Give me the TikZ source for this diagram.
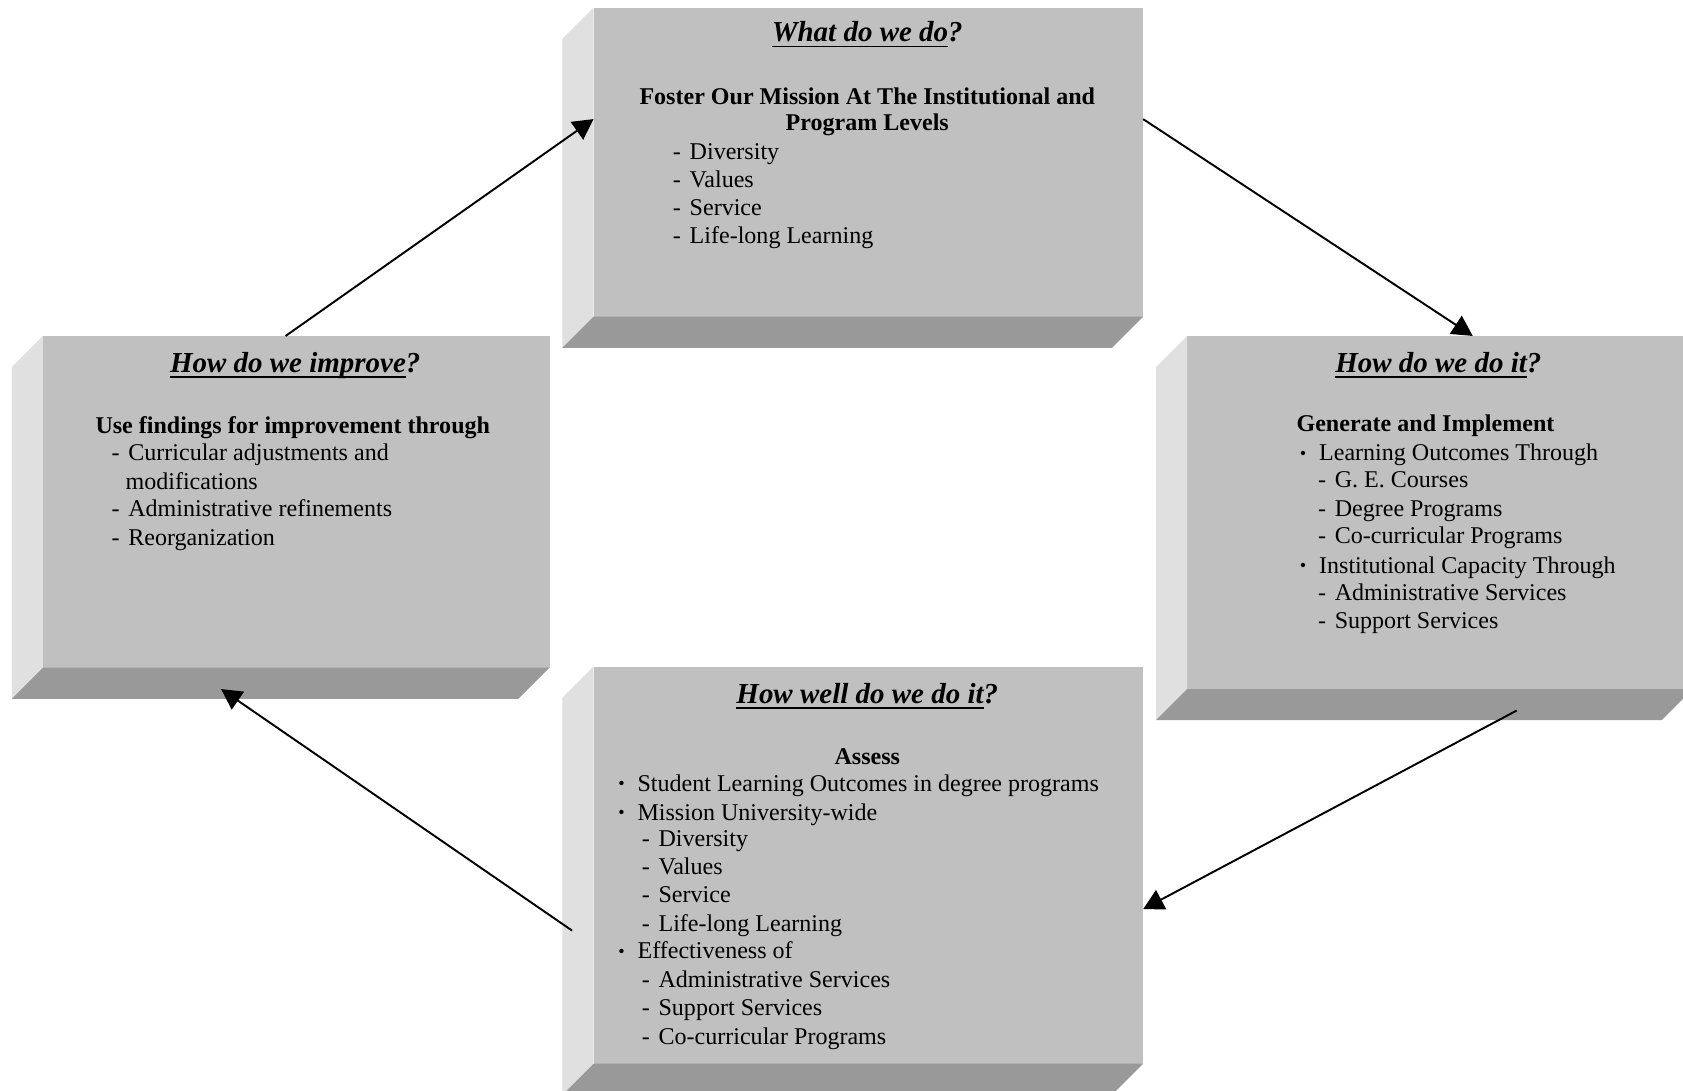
\documentclass[tikz,border=0pt]{standalone}
\usepackage{fontspec}
\setmainfont{Liberation Serif}
\usetikzlibrary{arrows.meta,calc,fit}
\definecolor{facefront}{RGB}{192,192,192}
\definecolor{faceleft}{RGB}{224,224,224}
\definecolor{facebottom}{RGB}{153,153,153}
\newcommand\myul[1]{\setbox0\hbox{#1}\rlap{\rule[-2.6pt]{\wd0}{0.8pt}}\box0}
\newcommand\mydash{\makebox[7.8pt][l]{-}}
\newcommand\mybul{\makebox[9pt][l]{\raisebox{0.6pt}{\fontsize{8.5}{8.5}\selectfont •}}}
\newcommand\threedbox[3]{%
  \node[front,fit={#2 #3}] (#1) {};
  \fill[faceleft] (#1.north west) -- (#1.south west) -- ++(-29,29) -- ($(#1.north west)+(-29,29)$) -- cycle;
  \fill[facebottom] (#1.south west) -- (#1.south east) -- ++(-29,29) -- ($(#1.south west)+(-29,29)$) -- cycle;
}
\begin{document}
\begin{tikzpicture}[x=0.5pt,y=-0.5pt,
  front/.style={fill=facefront,draw=none,inner sep=0pt,outer sep=0pt},
  txt/.style={inner sep=0pt,outer sep=0pt,font=\fontsize{11.2}{13}\selectfont},
  bld/.style={inner sep=0pt,outer sep=0pt,font=\fontsize{11.2}{13}\selectfont\bfseries},
  ttl/.style={inner sep=0pt,outer sep=0pt,font=\fontsize{13.5}{16}\selectfont\bfseries\itshape},
  arr/.style={line width=0.9pt,-{Triangle[length=9.5pt,width=10pt]}}]
\useasboundingbox (0,0) rectangle (1568,1016);
\clip (0,0) rectangle (1568,1016);

% boxes
\threedbox{A}{(553,7)}{(1065,295)}
\threedbox{B}{(40,313)}{(512,622)}
\threedbox{C}{(1106,313)}{(1577,642)}
\threedbox{D}{(553,621)}{(1065,991)}

% box A text
\node[ttl,anchor=base] (A-t) at (808,39) {\myul{What do we do}?};
\node[bld,anchor=base] (A-1) at (808,97) {Foster Our Mission At The Institutional and};
\node[bld,anchor=base] (A-2) at (808,122) {Program Levels};
\node[txt,anchor=base west] (A-3) at (627,149) {\mydash Diversity};
\node[txt,anchor=base west] (A-4) at (627,175) {\mydash Values};
\node[txt,anchor=base west] (A-5) at (627,201) {\mydash Service};
\node[txt,anchor=base west] (A-6) at (627,227) {\mydash Life-long Learning};

% box B text
\node[ttl,anchor=base] (B-t) at (275,347) {\myul{How do we improve}?};
\node[bld,anchor=base west] (B-1) at (89,404) {Use findings for improvement through};
\node[txt,anchor=base west] (B-2) at (104,429) {\mydash Curricular adjustments and};
\node[txt,anchor=base west] (B-3) at (117,456) {modifications};
\node[txt,anchor=base west] (B-4) at (104,481) {\mydash Administrative refinements};
\node[txt,anchor=base west] (B-5) at (104,508) {\mydash Reorganization};

% box C text
\node[ttl,anchor=base] (C-t) at (1340,347) {\myul{How do we do it}?};
\node[bld,anchor=base west] (C-1) at (1208,402) {Generate and Implement};
\node[txt,anchor=base west] (C-2) at (1211,429) {\mybul Learning Outcomes Through};
\node[txt,anchor=base west] (C-3) at (1228,454) {\mydash G. E. Courses};
\node[txt,anchor=base west] (C-4) at (1228,481) {\mydash Degree Programs};
\node[txt,anchor=base west] (C-5) at (1228,506) {\mydash Co-curricular Programs};
\node[txt,anchor=base west] (C-6) at (1211,534) {\mybul Institutional Capacity Through};
\node[txt,anchor=base west] (C-7) at (1228,559) {\mydash Administrative Services};
\node[txt,anchor=base west] (C-8) at (1228,586) {\mydash Support Services};

% box D text
\node[ttl,anchor=base] (D-t) at (808,655) {\myul{How well do we do it}?};
\node[bld,anchor=base] (D-1) at (808,712) {Assess};
\node[txt,anchor=base west] (D-2) at (576,737) {\mybul Student Learning Outcomes in degree programs};
\node[txt,anchor=base west] (D-3) at (576,764) {\mybul Mission University-wide};
\node[txt,anchor=base west] (D-4) at (598,789) {\mydash Diversity};
\node[txt,anchor=base west] (D-5) at (598,815) {\mydash Values};
\node[txt,anchor=base west] (D-6) at (598,841) {\mydash Service};
\node[txt,anchor=base west] (D-7) at (598,868) {\mydash Life-long Learning};
\node[txt,anchor=base west] (D-8) at (576,893) {\mybul Effectiveness of};
\node[txt,anchor=base west] (D-9) at (598,920) {\mydash Administrative Services};
\node[txt,anchor=base west] (D-10) at (598,946) {\mydash Support Services};
\node[txt,anchor=base west] (D-11) at (598,973) {\mydash Co-curricular Programs};

% connectors
\draw[arr] ($(B.north west)!0.479!(B.north east)$) -- ($(A.north west)!0.361!(A.south west)$);
\draw[arr] ($(A.north east)!0.361!(A.south east)$) -- ($(C.north west)!0.565!(C.north east)$);
\draw[arr] ($(C.south west)+(307,20)$) -- ($(D.north east)!0.611!(D.south east)$);
\draw[arr] ($(D.north west)+(-20,246)$) -- ($(B.south west)+(166,20)$);
\end{tikzpicture}
\end{document}
